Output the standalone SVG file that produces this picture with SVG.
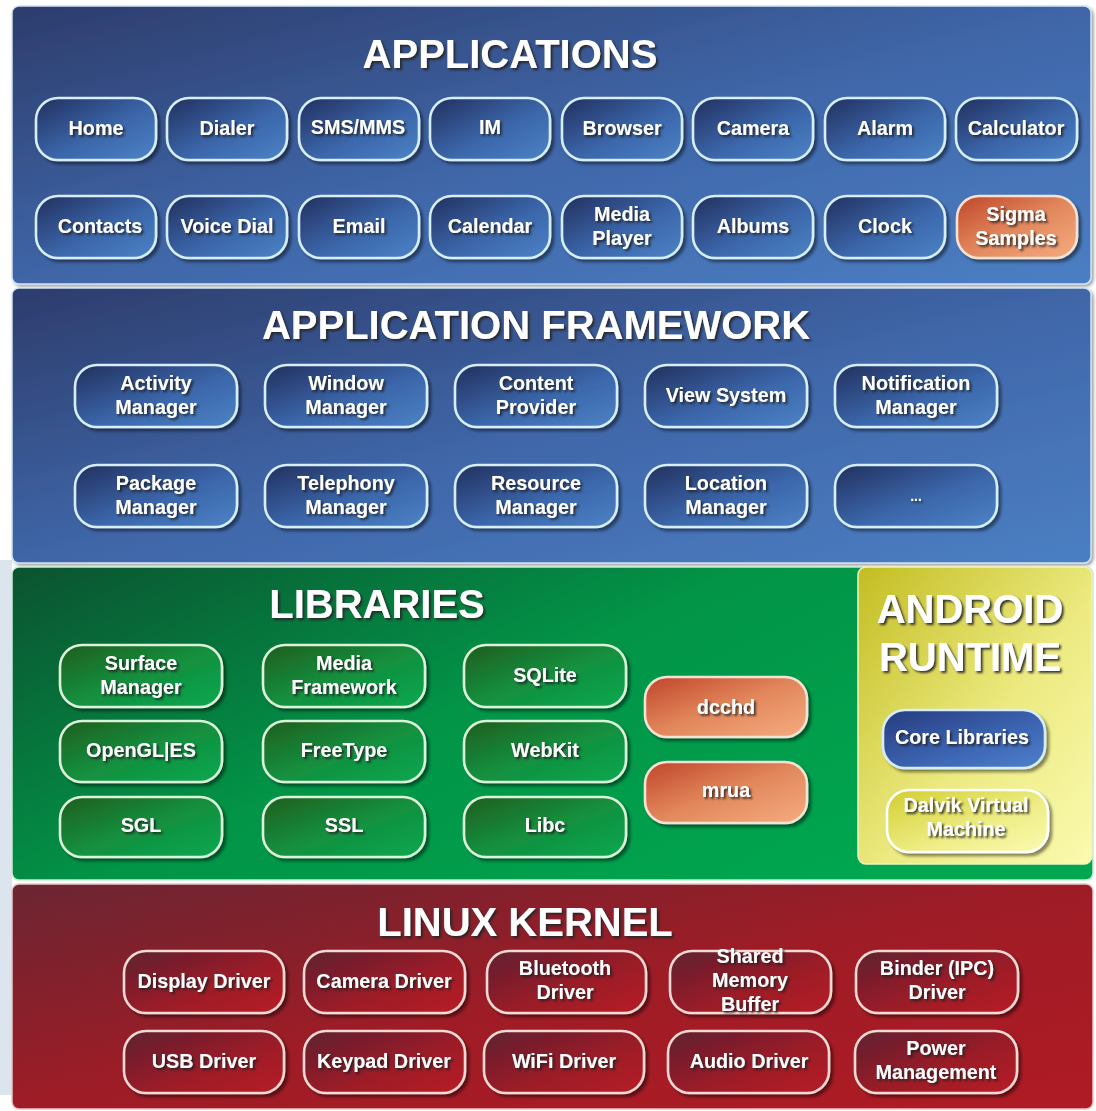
<svg xmlns="http://www.w3.org/2000/svg" width="1096" height="1111" viewBox="0 0 1096 1111">
<defs>
<linearGradient id="pBlue" x1="0" y1="0" x2="1" y2="1"><stop offset="0" stop-color="#2d3c6c"/><stop offset="0.5" stop-color="#3f66a8"/><stop offset="1" stop-color="#4b7fc3"/></linearGradient>
<linearGradient id="pGreen" x1="0" y1="0" x2="1" y2="0.6"><stop offset="0" stop-color="#0b5330"/><stop offset="0.5" stop-color="#029447"/><stop offset="1" stop-color="#00a650"/></linearGradient>
<linearGradient id="pRed" x1="0" y1="0" x2="1" y2="1"><stop offset="0" stop-color="#6b2532"/><stop offset="0.5" stop-color="#9e1c26"/><stop offset="1" stop-color="#b01b24"/></linearGradient>
<linearGradient id="pYellow" x1="0" y1="0" x2="1" y2="1"><stop offset="0" stop-color="#c3bd22"/><stop offset="0.55" stop-color="#ecea80"/><stop offset="1" stop-color="#fbfab0"/></linearGradient>
<linearGradient id="nBlue" x1="0" y1="0" x2="1" y2="1"><stop offset="0" stop-color="#22305e"/><stop offset="0.55" stop-color="#3b66aa"/><stop offset="1" stop-color="#4c82c6"/></linearGradient>
<linearGradient id="nCore" x1="0" y1="0" x2="1" y2="1"><stop offset="0" stop-color="#263b7e"/><stop offset="0.6" stop-color="#3d66b4"/><stop offset="1" stop-color="#4d80cc"/></linearGradient>
<linearGradient id="nGreen" x1="0" y1="0" x2="1" y2="1"><stop offset="0" stop-color="#215d1e"/><stop offset="0.5" stop-color="#138f3e"/><stop offset="1" stop-color="#0aa850"/></linearGradient>
<linearGradient id="nRed" x1="0" y1="0" x2="1" y2="1"><stop offset="0" stop-color="#5e2130"/><stop offset="0.55" stop-color="#9a1c28"/><stop offset="1" stop-color="#b81e26"/></linearGradient>
<linearGradient id="nOrange" x1="0" y1="0" x2="1" y2="1"><stop offset="0" stop-color="#c0452a"/><stop offset="0.5" stop-color="#e2875c"/><stop offset="1" stop-color="#f5ac80"/></linearGradient>
<linearGradient id="nYellow" x1="0" y1="0" x2="1" y2="1"><stop offset="0" stop-color="#d2ce30"/><stop offset="0.6" stop-color="#efee88"/><stop offset="1" stop-color="#fbfab0"/></linearGradient>
<filter id="ds" x="-10%" y="-10%" width="125%" height="135%"><feDropShadow dx="3" dy="3" stdDeviation="1.5" flood-color="#000" flood-opacity="0.45"/></filter>
<filter id="ps" x="-2%" y="-2%" width="105%" height="105%"><feDropShadow dx="2" dy="2" stdDeviation="1.5" flood-color="#333" flood-opacity="0.45"/></filter>
<filter id="ts" x="-10%" y="-20%" width="125%" height="150%"><feDropShadow dx="2" dy="2" stdDeviation="0.8" flood-color="#1a1a1a" flood-opacity="0.85"/></filter>
<filter id="ts2" x="-10%" y="-20%" width="125%" height="150%"><feDropShadow dx="2" dy="2" stdDeviation="1" flood-color="#222" flood-opacity="0.9"/></filter>
</defs>
<style>
.panel{stroke:#cfe4f3;stroke-width:1.5}
.nb{fill:url(#nBlue);stroke:#d6eef9;stroke-width:2.6;filter:url(#ds)}
.ng{fill:url(#nGreen);stroke:#dcf2d8;stroke-width:2.6;filter:url(#ds)}
.nr{fill:url(#nRed);stroke:#f3d9d2;stroke-width:2.6;filter:url(#ds)}
.no{fill:url(#nOrange);stroke:#f4e2d4;stroke-width:2.6;filter:url(#ds)}
.nc{fill:url(#nCore);stroke:#d6eef9;stroke-width:2.6;filter:url(#ds)}
.ny{fill:url(#nYellow);stroke:#ffffff;stroke-width:2.6;filter:url(#ds)}
text{font-family:"Liberation Sans",Arial,sans-serif;font-weight:bold;fill:#ffffff;text-anchor:middle}
.t{font-size:19.8px;filter:url(#ts)}
.h{font-size:40px;filter:url(#ts2)}
.hy{font-size:40px;filter:url(#ts2)}
</style>
<rect x="0" y="0" width="1096" height="1111" fill="#ffffff"/>
<rect x="0" y="560" width="12" height="535" fill="#dce5ed"/>

<!-- panels -->
<g id="panel-applications">
<rect class="panel" x="12" y="6" width="1079" height="278" rx="7" fill="url(#pBlue)" filter="url(#ps)"/>
<text class="h" x="510" y="68">APPLICATIONS</text>
</g>
<g id="panel-framework">
<rect class="panel" x="12" y="288" width="1079" height="275" rx="7" fill="url(#pBlue)" filter="url(#ps)"/>
<text class="h" x="536" y="339">APPLICATION FRAMEWORK</text>
</g>
<g id="panel-libraries">
<rect x="12" y="567" width="1081" height="313" rx="7" fill="url(#pGreen)" stroke="#c9ecd6" stroke-width="1.5"/>
<text class="h" x="377" y="618">LIBRARIES</text>
</g>
<g id="panel-runtime">
<rect x="858" y="567" width="234" height="297" rx="8" fill="url(#pYellow)" stroke="#f2f2c0" stroke-width="1.5"/>
<text class="hy" x="970" y="623">ANDROID</text>
<text class="hy" x="970" y="671">RUNTIME</text>
</g>
<g id="panel-kernel">
<rect x="12" y="884" width="1081" height="225" rx="7" fill="url(#pRed)" stroke="#e7c7c7" stroke-width="1.5"/>
<text class="h" x="525" y="936">LINUX KERNEL</text>
</g>

<!-- application nodes -->
<g id="n-home"><rect class="nb" x="36" y="98" width="120" height="62" rx="22"/><text class="t" x="96" y="135">Home</text></g>
<g id="n-dialer"><rect class="nb" x="167" y="98" width="120" height="62" rx="22"/><text class="t" x="227" y="135">Dialer</text></g>
<g id="n-sms"><rect class="nb" x="299" y="98" width="120" height="62" rx="22"/><text class="t" x="358" y="134">SMS/MMS</text></g>
<g id="n-im"><rect class="nb" x="430" y="98" width="120" height="62" rx="22"/><text class="t" x="490" y="134">IM</text></g>
<g id="n-browser"><rect class="nb" x="562" y="98" width="120" height="62" rx="22"/><text class="t" x="622" y="135">Browser</text></g>
<g id="n-camera"><rect class="nb" x="693" y="98" width="120" height="62" rx="22"/><text class="t" x="753" y="135">Camera</text></g>
<g id="n-alarm"><rect class="nb" x="825" y="98" width="120" height="62" rx="22"/><text class="t" x="885" y="135">Alarm</text></g>
<g id="n-calculator"><rect class="nb" x="956" y="98" width="121" height="62" rx="22"/><text class="t" x="1016" y="135">Calculator</text></g>

<g id="n-contacts"><rect class="nb" x="36" y="196" width="120" height="62" rx="22"/><text class="t" x="100" y="233">Contacts</text></g>
<g id="n-voicedial"><rect class="nb" x="167" y="196" width="120" height="62" rx="22"/><text class="t" x="227" y="233">Voice Dial</text></g>
<g id="n-email"><rect class="nb" x="299" y="196" width="120" height="62" rx="22"/><text class="t" x="359" y="233">Email</text></g>
<g id="n-calendar"><rect class="nb" x="430" y="196" width="120" height="62" rx="22"/><text class="t" x="490" y="233">Calendar</text></g>
<g id="n-mediaplayer"><rect class="nb" x="562" y="196" width="120" height="62" rx="22"/><text class="t" x="622" y="221">Media</text><text class="t" x="622" y="245">Player</text></g>
<g id="n-albums"><rect class="nb" x="693" y="196" width="120" height="62" rx="22"/><text class="t" x="753" y="233">Albums</text></g>
<g id="n-clock"><rect class="nb" x="825" y="196" width="120" height="62" rx="22"/><text class="t" x="885" y="233">Clock</text></g>
<g id="n-sigma"><rect class="no" x="957" y="196" width="120" height="62" rx="22"/><text class="t" x="1016" y="221">Sigma</text><text class="t" x="1016" y="245">Samples</text></g>

<!-- framework nodes -->
<g id="n-activity"><rect class="nb" x="75" y="365" width="162" height="62" rx="22"/><text class="t" x="156" y="390">Activity</text><text class="t" x="156" y="414">Manager</text></g>
<g id="n-window"><rect class="nb" x="265" y="365" width="162" height="62" rx="22"/><text class="t" x="346" y="390">Window</text><text class="t" x="346" y="414">Manager</text></g>
<g id="n-content"><rect class="nb" x="455" y="365" width="162" height="62" rx="22"/><text class="t" x="536" y="390">Content</text><text class="t" x="536" y="414">Provider</text></g>
<g id="n-view"><rect class="nb" x="645" y="365" width="162" height="62" rx="22"/><text class="t" x="726" y="402">View System</text></g>
<g id="n-notification"><rect class="nb" x="835" y="365" width="162" height="62" rx="22"/><text class="t" x="916" y="390">Notification</text><text class="t" x="916" y="414">Manager</text></g>

<g id="n-package"><rect class="nb" x="75" y="465" width="162" height="62" rx="22"/><text class="t" x="156" y="490">Package</text><text class="t" x="156" y="514">Manager</text></g>
<g id="n-telephony"><rect class="nb" x="265" y="465" width="162" height="62" rx="22"/><text class="t" x="346" y="490">Telephony</text><text class="t" x="346" y="514">Manager</text></g>
<g id="n-resource"><rect class="nb" x="455" y="465" width="162" height="62" rx="22"/><text class="t" x="536" y="490">Resource</text><text class="t" x="536" y="514">Manager</text></g>
<g id="n-location"><rect class="nb" x="645" y="465" width="162" height="62" rx="22"/><text class="t" x="726" y="490">Location</text><text class="t" x="726" y="514">Manager</text></g>
<g id="n-more"><rect class="nb" x="835" y="465" width="162" height="62" rx="22"/><text class="t" x="916" y="501" style="font-size:14px">...</text></g>

<!-- library nodes -->
<g id="n-surface"><rect class="ng" x="60" y="645" width="162" height="62" rx="22"/><text class="t" x="141" y="670">Surface</text><text class="t" x="141" y="694">Manager</text></g>
<g id="n-mediafw"><rect class="ng" x="263" y="645" width="162" height="62" rx="22"/><text class="t" x="344" y="670">Media</text><text class="t" x="344" y="694">Framework</text></g>
<g id="n-sqlite"><rect class="ng" x="464" y="645" width="162" height="62" rx="22"/><text class="t" x="545" y="682">SQLite</text></g>
<g id="n-opengl"><rect class="ng" x="60" y="721" width="162" height="61" rx="22"/><text class="t" x="141" y="757">OpenGL|ES</text></g>
<g id="n-freetype"><rect class="ng" x="263" y="721" width="162" height="61" rx="22"/><text class="t" x="344" y="757">FreeType</text></g>
<g id="n-webkit"><rect class="ng" x="464" y="721" width="162" height="61" rx="22"/><text class="t" x="545" y="757">WebKit</text></g>
<g id="n-sgl"><rect class="ng" x="60" y="797" width="162" height="60" rx="22"/><text class="t" x="141" y="832">SGL</text></g>
<g id="n-ssl"><rect class="ng" x="263" y="797" width="162" height="60" rx="22"/><text class="t" x="344" y="832">SSL</text></g>
<g id="n-libc"><rect class="ng" x="464" y="797" width="162" height="60" rx="22"/><text class="t" x="545" y="832">Libc</text></g>
<g id="n-dcchd"><rect class="no" x="645" y="677" width="162" height="60" rx="22"/><text class="t" x="726" y="714">dcchd</text></g>
<g id="n-mrua"><rect class="no" x="645" y="762" width="162" height="61" rx="22"/><text class="t" x="726" y="797">mrua</text></g>

<!-- runtime nodes -->
<g id="n-core"><rect class="nc" x="883" y="710" width="162" height="58" rx="22"/><text class="t" x="962" y="744">Core Libraries</text></g>
<g id="n-dalvik"><rect class="ny" x="887" y="790" width="161" height="62" rx="22"/><text class="t" x="966" y="812">Dalvik Virtual</text><text class="t" x="966" y="836">Machine</text></g>

<!-- kernel nodes -->
<g id="n-display"><rect class="nr" x="124" y="951" width="160" height="62" rx="22"/><text class="t" x="204" y="988">Display Driver</text></g>
<g id="n-cameradrv"><rect class="nr" x="304" y="951" width="161" height="62" rx="22"/><text class="t" x="384" y="988">Camera Driver</text></g>
<g id="n-bluetooth"><rect class="nr" x="487" y="951" width="159" height="62" rx="22"/><text class="t" x="565" y="975">Bluetooth</text><text class="t" x="565" y="999">Driver</text></g>
<g id="n-sharedmem"><rect class="nr" x="670" y="951" width="161" height="62" rx="22"/><text class="t" x="750" y="963">Shared</text><text class="t" x="750" y="987">Memory</text><text class="t" x="750" y="1011">Buffer</text></g>
<g id="n-binder"><rect class="nr" x="856" y="951" width="162" height="62" rx="22"/><text class="t" x="937" y="975">Binder (IPC)</text><text class="t" x="937" y="999">Driver</text></g>
<g id="n-usb"><rect class="nr" x="124" y="1031" width="160" height="62" rx="22"/><text class="t" x="204" y="1068">USB Driver</text></g>
<g id="n-keypad"><rect class="nr" x="304" y="1031" width="161" height="62" rx="22"/><text class="t" x="384" y="1068">Keypad Driver</text></g>
<g id="n-wifi"><rect class="nr" x="484" y="1031" width="160" height="62" rx="22"/><text class="t" x="564" y="1068">WiFi Driver</text></g>
<g id="n-audio"><rect class="nr" x="668" y="1031" width="161" height="62" rx="22"/><text class="t" x="749" y="1068">Audio Driver</text></g>
<g id="n-power"><rect class="nr" x="855" y="1031" width="162" height="62" rx="22"/><text class="t" x="936" y="1055">Power</text><text class="t" x="936" y="1079">Management</text></g>

<g id="connectors"></g>
</svg>
